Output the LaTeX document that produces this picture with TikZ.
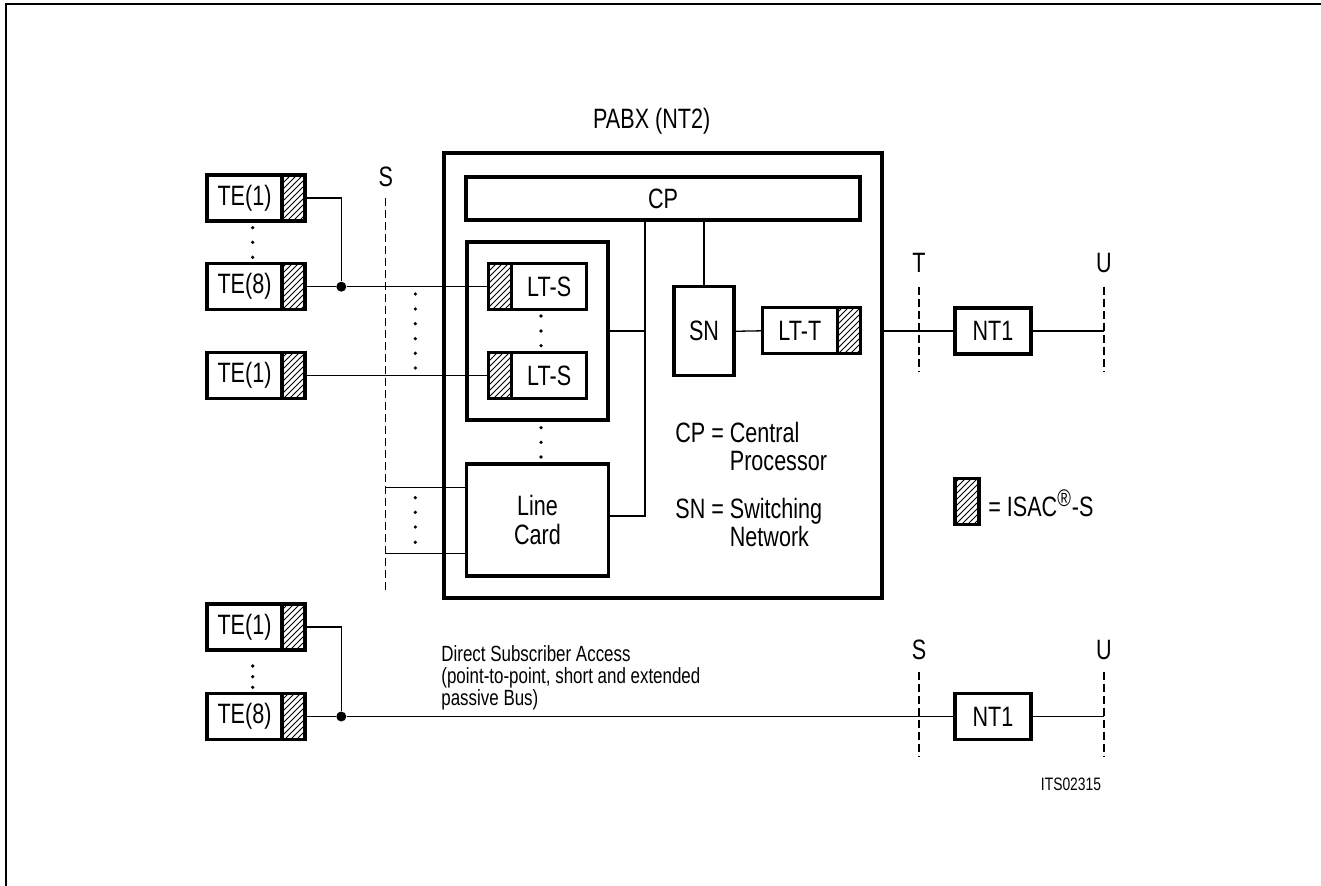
\documentclass[tikz,border=0pt]{standalone}
\usepackage{fontspec}
\setmainfont{Liberation Sans}[FakeStretch=0.77]
\usetikzlibrary{positioning,patterns}

\begin{document}
\begin{tikzpicture}[x=0.5pt,y=-0.5pt]
\tikzstyle{unitbox}=[draw, line width=1.6pt, minimum width=37.5pt, minimum height=23pt, inner sep=0pt, outer sep=0pt, font=\fontsize{14}{14.5}\selectfont]
\tikzstyle{isac}=[draw, line width=1.6pt, pattern=north east lines, minimum width=11.5pt, minimum height=23pt, inner sep=0pt, outer sep=0pt]
\tikzstyle{wire}=[line width=0.65pt]
\tikzstyle{refline}=[line width=0.55pt, dash pattern=on 4pt off 2pt]
\tikzstyle{dotmark}=[circle, fill, inner sep=0pt, minimum size=1.8pt]
\tikzstyle{junction}=[circle, fill, inner sep=0pt, minimum size=5pt]
\tikzstyle{labeltext}=[font=\fontsize{14}{14}\selectfont, inner sep=0pt]
\tikzstyle{smalltext}=[font=\fontsize{11}{11}\selectfont, inner sep=0pt, align=left]

\useasboundingbox (0,0) rectangle (1321,886);
\draw[line width=0.65pt] (6,886) -- (6,4) -- (1321,4);

% PABX
\node[unitbox, line width=1.7pt, minimum width=219pt, minimum height=222.5pt] (pabx) at (663,375.5) {};
\node[labeltext] (pabxlabel) at (651.7,121.7) {PABX (NT2)};
\node[unitbox, minimum width=197pt, minimum height=21.5pt] (cp) at (663,198.5) {CP};
\node[unitbox, minimum width=70.5pt, minimum height=89pt] (ltgroup) at (537.5,331) {};
\node[unitbox] (lts1) at (549.2,286.7) {LT-S};
\node[isac, left=0pt of lts1] (lts1i) {};
\node[unitbox] (lts2) at (549.2,375.5) {LT-S};
\node[isac, left=0pt of lts2] (lts2i) {};
\node[unitbox, minimum width=70.8pt, minimum height=56pt, align=center] (linecard) at (537.5,520) {Line\\Card};
\node[unitbox, minimum width=30pt, minimum height=44.5pt] (sn) at (704,331.3) {SN};
\node[unitbox] (ltt) at (799.8,330.8) {LT-T};
\node[isac, right=0pt of ltt] (ltti) {};
\coordinate (busx) at (645,0);
\draw[wire] (cp.south -| busx) |- ([yshift=2pt]linecard.east);
\draw[wire] (ltgroup.east) -- (ltgroup.east -| busx);
\draw[wire] (cp.south -| sn.north) -- (sn.north);
\draw[wire] (sn.east) -- (ltt.west);
\foreach \y in {316,331,345.7,427.7,442.3,457}
  \node[dotmark] at (541,\y) {};

% keys
\node[labeltext, anchor=base west] (cpkey) at (675,443) {\begin{tabular}[t]{@{}l@{\ }l@{}}CP =&Central\\&Processor\end{tabular}};
\node[labeltext, anchor=base west] (snkey) at (675,518.3) {\begin{tabular}[t]{@{}l@{\ }l@{}}SN =&Switching\\&Network\end{tabular}};
\node[isac, minimum width=12pt] (isackey) at (967,501.7) {};
\node[labeltext, anchor=base west] (isactext) at (988,517) {= ISAC\textsuperscript{\fontsize{12}{12}\selectfont\textregistered}-S};

% terminals on the S interface of the PABX
\node[unitbox] (tea) at (244.5,198) {TE(1)};
\node[isac, right=0pt of tea] (teai) {};
\node[unitbox] (teb) at (244.5,286.7) {TE(8)};
\node[isac, right=0pt of teb] (tebi) {};
\node[unitbox] (tec) at (244.5,375.5) {TE(1)};
\node[isac, right=0pt of tec] (teci) {};
\node[junction] (busa) at (341.3,286.7) {};
\draw[wire] (teai.east) -| (busa);
\draw[wire] (tebi.east) -- (busa) -- (lts1i.west);
\draw[wire] (teci.east) -- (lts2i.west);
\foreach \y in {227.7,242.3,257.3}
  \node[dotmark] at (252.7,\y) {};
\foreach \y in {294,309,323.7,338.7,353.3,368,497.7,512.3,527,542.3}
  \node[dotmark] at (415.3,\y) {};
\node[labeltext] (slabel) at (385.7,176.7) {S};
\draw[refline] (385.7,198) -- (385.7,593);
\coordinate (lcin1) at (385.7,487.3);
\coordinate (lcin2) at (385.7,553.3);
\draw[wire] (lcin1) -- (lcin1 -| linecard.west);
\draw[wire] (lcin2) -- (lcin2 -| linecard.west);

% T and U interface
\node[unitbox, minimum width=38pt] (nta) at (993,331) {NT1};
\coordinate (ua) at (1104,331);
\draw[wire] (pabx.east |- nta) -- (nta.west);
\draw[wire] (nta.east) -- (ua);
\node[labeltext] (tlabel) at (919,263.3) {T};
\node[labeltext] (ulabela) at (1104,263.3) {U};
\draw[refline] (919,286.7) -- (919,371.7);
\draw[refline] (1104,286.7) -- (1104,371.7);

% direct subscriber access
\node[unitbox] (ted) at (244.5,627) {TE(1)};
\node[isac, right=0pt of ted] (tedi) {};
\node[unitbox] (tee) at (244.5,716.5) {TE(8)};
\node[isac, right=0pt of tee] (teei) {};
\node[junction] (busb) at (341.3,716.5) {};
\node[unitbox, minimum width=38pt] (ntb) at (993,716.5) {NT1};
\coordinate (ub) at (1104,716.5);
\draw[wire] (tedi.east) -| (busb);
\draw[wire] (teei.east) -- (busb) -- (ntb.west);
\draw[wire] (ntb.east) -- (ub);
\foreach \y in {666,676.7,687.3}
  \node[dotmark] at (252.7,\y) {};
\node[smalltext, anchor=north west] (dsa) at (441,645) {Direct Subscriber Access\\(point-to-point, short and extended\\passive Bus)};
\node[labeltext] (slabelb) at (919,650) {S};
\node[labeltext] (ulabelb) at (1104,650) {U};
\draw[refline] (919,671.7) -- (919,756.7);
\draw[refline] (1104,671.7) -- (1104,756.7);

\node[font=\fontsize{9}{10}\selectfont] (figid) at (1071,784) {ITS02315};
\end{tikzpicture}
\end{document}
